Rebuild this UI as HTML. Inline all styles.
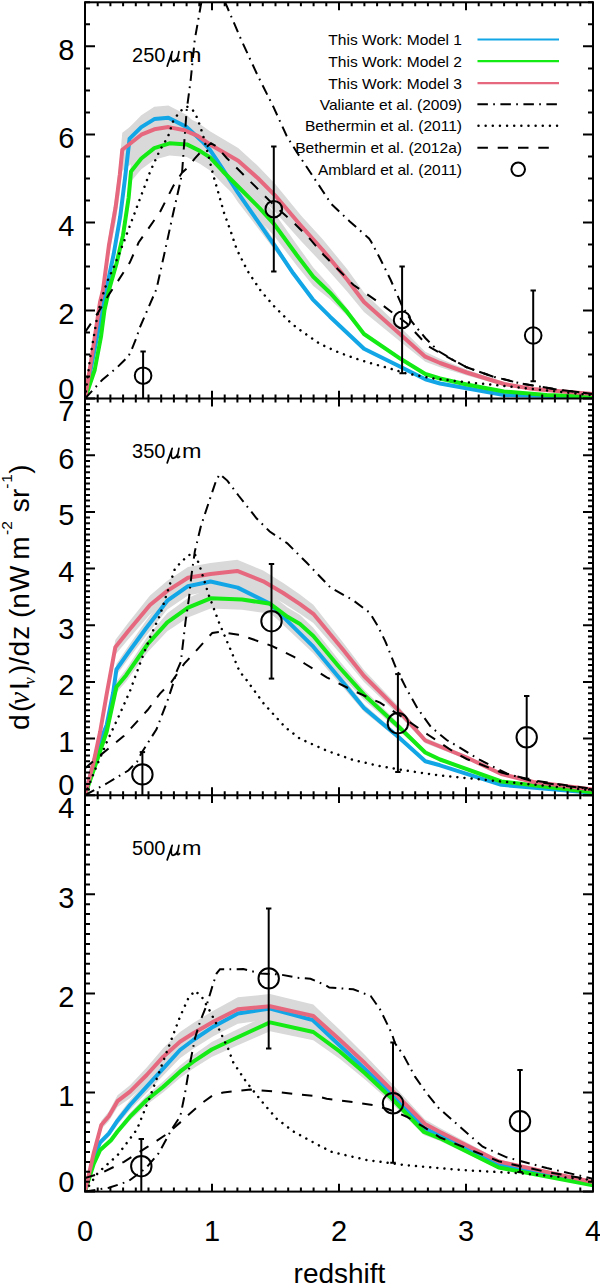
<!DOCTYPE html>
<html><head><meta charset="utf-8"><title>dI/dz vs redshift</title>
<style>html,body{margin:0;padding:0;background:#fff;}svg{display:block;font-family:"Liberation Sans",sans-serif;}</style></head><body>
<svg width="600" height="1283" viewBox="0 0 600 1283">
<rect width="600" height="1283" fill="#fff"/>
<defs>
<clipPath id="c0"><rect x="85" y="2.3" width="508" height="396.3"/></clipPath>
<clipPath id="c1"><rect x="85" y="398.6" width="508" height="396.6"/></clipPath>
<clipPath id="c2"><rect x="85" y="795.2" width="508" height="396.4"/></clipPath>
</defs>
<g clip-path="url(#c0)">
<polygon points="85,398.6 92.5,349 100,295.8 103,282.6 109,234.3 115.6,194.4 119.8,159.5 122.3,132.8 141.3,118.2 154.3,113.4 168.4,112.2 184.7,116.8 197.7,122.4 210,131.2 238.2,147.9 257.7,165.7 275,183.7 301,215.4 322.7,239.3 347.3,269.2 364,292.4 401.3,328.2 425.3,351.7 440,358.7 466.7,369.4 504,382.2 533.3,387.8 593,393.4 593,394.6 533.3,390.2 504,385.8 466.7,375.6 440,367.3 425.3,361.7 401.3,342.5 364,312.1 347.3,291.7 322.7,264 301,241 275,211.7 257.7,194.6 238.2,177.3 210,160.8 197.7,152.1 184.7,146.7 168.4,147.1 154.3,151 141.3,156.5 122.3,170.8 119.8,193.3 115.6,222.5 109,256 103,297.3 100,308.5 92.5,354.8 85,398.6" fill="#d9d9d9"/>
<polygon points="85,398.6 99.7,320 106.2,285.2 113.7,247.6 120.2,208.7 124.9,169.7 129.6,127.2 141.3,115.2 154.3,106.8 168.4,105.4 186.8,115.1 202,129.7 210,138.6 223,158.9 238.2,183.8 253.3,207.5 274.2,240.4 293.2,271.4 312.7,297.8 330,315.5 364,348 401.3,366.8 425.3,379 440,383.3 504,394.9 593,397 593,397 504,395.1 440,383.7 425.3,379.6 401.3,367.8 364,349.4 330,317.9 312.7,300.8 293.2,275.2 274.2,249.6 253.3,222.1 238.2,202.6 223,179.7 210,161 202,152.7 186.8,139.1 168.4,130.2 154.3,131.4 141.3,139 129.6,150 124.9,188.9 120.2,224.7 113.7,260.4 106.2,294.8 99.7,326.6 85,398.6" fill="#d9d9d9"/>
<polygon points="85,398.6 94.7,368.7 101,334 104.5,306.1 109,285.2 116.5,257.6 123,228.2 128.6,189.2 131,161.6 141.3,147.7 154.3,136.4 169.5,131 186.8,131.7 199.8,138 210,144.4 223,158.8 242.5,178.8 259.8,196.3 274.2,212.5 296.7,244.4 313.3,267.5 330,286.1 347.3,308.5 364,333.1 401.3,358.8 425.3,373.7 440,378.3 466.7,384.3 504,391.4 546.7,395 593,396.5 593,396.5 546.7,395 504,391.6 466.7,384.7 440,378.7 425.3,374.3 401.3,359.8 364,334.9 347.3,315.9 330,299.3 313.3,285.9 296.7,265.6 274.2,235.9 259.8,220.3 242.5,203.2 223,184.2 210,170.4 199.8,163.8 186.8,157.1 169.5,155.6 154.3,159.8 141.3,169.3 131,181.6 128.6,206.8 123,242.6 116.5,269.4 109,294.8 104.5,313.9 101,339.4 94.7,371.3 85,398.6" fill="#d9d9d9"/>
<polyline points="85,398.6 99.7,323.3 106.2,290 113.7,254 120.2,216.7 124.9,179.3 129.6,138.6 141.3,127.1 154.3,119.1 168.4,117.8 186.8,127.1 202,141.2 210,149.8 223,169.3 238.2,193.2 253.3,214.8 274.2,245 293.2,273.3 312.7,299.3 330,316.7 364,348.7 401.3,367.3 425.3,379.3 440,383.5 504,395 593,397" fill="none" stroke="#12a6e6" stroke-width="4" stroke-linejoin="round"/>
<polyline points="85,398.6 94.7,370 101,336.7 104.5,310 109,290 116.5,263.5 123,235.4 128.6,198 131,171.6 141.3,158.5 154.3,148.1 169.5,143.3 186.8,144.4 199.8,150.9 210,157.4 223,171.5 242.5,191 259.8,208.3 274.2,224.2 296.7,255 313.3,276.7 330,292.7 347.3,312.2 364,334 401.3,359.3 425.3,374 440,378.5 466.7,384.5 504,391.5 546.7,395 593,396.5" fill="none" stroke="#14ea14" stroke-width="4" stroke-linejoin="round"/>
<polyline points="85,398.6 92.5,352.2 100,302.3 103,290 109,244.8 115.6,207.4 119.8,174.7 122.3,149.7 141.3,134.7 154.3,129.3 168.4,127.1 184.7,130.3 197.7,135.8 210,144.4 238.2,160.7 257.7,178 275,195.3 301,225.7 322.7,250 347.3,279.7 364,302 401.3,335.3 425.3,356.7 440,363 466.7,372.5 504,384 533.3,389 593,394" fill="none" stroke="#e6687f" stroke-width="4" stroke-linejoin="round"/>
<polyline points="85,332.3 97.5,313.6 108.7,294.9 118.7,279.9 129.9,262.4 138.6,242.5 160,212 173.3,186 182,172.7 188,167.3 194.7,158.7 201.3,151.3 211,143.3 216,146 226.7,158 242.5,173.7 259.8,191 275,206.2 292.3,221.3 309.7,238.7 324,255.3 353.3,284.7 380,303.3 406.7,323.3 428,346 441,353.5 466.7,367.3 493.3,376.7 520,383.3 560,390 593,394" fill="none" stroke="#000" stroke-width="2" stroke-dasharray="10.5 9.8"/>
<polyline points="85,398.6 90,358.5 93.7,337.3 97.5,314.8 102.4,296.1 107.4,281.1 113.7,267.4 118.7,255 123.6,242.5 150,172 160,150 168,136.7 173.3,120.7 180,111.3 186.7,106.5 192,108.7 197.3,118 202.7,134 208,154 213.3,175.3 218.7,194 224,212.7 230.7,231.3 236.8,249.5 247.7,271.2 260.7,290.7 273.7,305.8 291,323.2 300,330 320,344 340,353 356.5,358.8 370,363 384,366.8 406.7,373.5 433.3,378.5 460,381.5 504,386 593,395.3" fill="none" stroke="#000" stroke-width="2.5" stroke-linecap="round" stroke-dasharray="0.01 7.13"/>
<polyline points="85,398.6 102.4,379.7 117.4,367.2 128.6,356 131.1,351 136.1,338.5 139.9,327.3 156.5,289 165.2,250 173.3,212.7 180,183.3 182,173.5 184,146 186.7,110 190.7,80 194.7,40 201.3,2.7 208.3,-37 225.3,2.7 241.3,40 257.3,74.7 273.3,106.7 286.7,136 296.7,152 309.7,171.5 322.7,191 331.3,204 349.5,221.2 369,238.5 371.2,241.8 379.8,258 390.7,280 402.1,306 412,322 425.3,338 438.7,351.3 452,359.3 466.7,367.3 493.3,376.7 520,383.3 560,390 593,394" fill="none" stroke="#000" stroke-width="2" stroke-dasharray="10.5 5.3 1.7 5.5"/>
<line x1="143.1" y1="351.4" x2="143.1" y2="398.6" stroke="#000" stroke-width="2"/>
<line x1="140.4" y1="351.4" x2="145.8" y2="351.4" stroke="#000" stroke-width="2"/>
<circle cx="143.1" cy="375.7" r="8.3" fill="none" stroke="#000" stroke-width="2"/>
<line x1="273.8" y1="146.6" x2="273.8" y2="271.6" stroke="#000" stroke-width="2"/>
<line x1="271.1" y1="146.6" x2="276.5" y2="146.6" stroke="#000" stroke-width="2"/>
<line x1="271.1" y1="271.6" x2="276.5" y2="271.6" stroke="#000" stroke-width="2"/>
<circle cx="273.8" cy="209.2" r="8.3" fill="none" stroke="#000" stroke-width="2"/>
<line x1="402.1" y1="266.6" x2="402.1" y2="373.2" stroke="#000" stroke-width="2"/>
<line x1="399.4" y1="266.6" x2="404.8" y2="266.6" stroke="#000" stroke-width="2"/>
<line x1="399.4" y1="373.2" x2="404.8" y2="373.2" stroke="#000" stroke-width="2"/>
<circle cx="402.1" cy="319.9" r="8.3" fill="none" stroke="#000" stroke-width="2"/>
<line x1="533.2" y1="290.4" x2="533.2" y2="381.2" stroke="#000" stroke-width="2"/>
<line x1="530.5" y1="290.4" x2="535.9" y2="290.4" stroke="#000" stroke-width="2"/>
<line x1="530.5" y1="381.2" x2="535.9" y2="381.2" stroke="#000" stroke-width="2"/>
<circle cx="533.2" cy="335.5" r="8.3" fill="none" stroke="#000" stroke-width="2"/>
</g>
<g clip-path="url(#c1)">
<polygon points="85,795.2 93.7,760.1 100.2,728.3 106.7,688.9 115.3,639.9 128.3,622.8 150,595.5 167.3,580.7 188,566.9 210.5,562.9 237.2,559.7 263.2,570.6 283.2,582.9 300,594.5 313.3,604.7 342.7,642 364,670 398.7,706.5 425.3,737.8 440,744.1 466.7,755.6 501.3,772.9 533.3,781.3 593,789.2 593,789.8 533.3,782.7 501.3,775.1 466.7,759.4 440,748.9 425.3,743.2 398.7,714.9 364,682 342.7,656.6 313.3,622.9 300,613.7 283.2,603.1 263.2,592 237.2,582.1 210.5,585.1 188,588.7 167.3,601.1 150,614.5 128.3,639.2 115.3,654.7 106.7,699.1 100.2,734.7 93.7,763.5 85,795.2" fill="#d9d9d9"/>
<polygon points="85,795.2 98,744.5 106.7,721.8 113.2,687.9 116.4,663.8 128.3,646.3 145.7,621.3 167.3,591.9 188,576.8 210.5,571.9 237.7,578.3 270.2,595.2 287.5,613.4 313.3,640.1 340,673.5 364,704.2 398.7,734.8 425.3,759.8 440,764 501.3,784.4 593,792.7 593,792.9 501.3,785.2 440,766.6 425.3,762.8 398.7,739.8 364,711.8 340,683.9 313.3,653.3 287.5,629 270.2,612.4 237.7,596.9 210.5,591.1 188,595.6 167.3,609.5 145.7,636.3 128.3,659.1 116.4,675.2 113.2,697.1 106.7,728.2 98,748.9 85,795.2" fill="#d9d9d9"/>
<polygon points="85,795.2 98,755.5 106.7,728.2 116.4,681.5 126.2,669 147.8,636.1 167.3,613.3 188,598 210.5,588.1 242,589.3 270.2,593.8 287.5,607.5 300,615.1 313.3,627.7 340,661.4 364,689.5 398.7,723.2 425.3,750.3 440,757.7 501.3,780.8 593,792.2 593,792.4 501.3,782.2 440,761.3 425.3,754.7 398.7,730.2 364,699.9 340,674.6 313.3,644.3 300,632.9 287.5,626.1 270.2,613.8 242,609.7 210.5,608.5 188,617.5 167.3,631.3 147.8,651.9 126.2,681.4 116.4,692.7 106.7,734.8 98,759.5 85,795.2" fill="#d9d9d9"/>
<polyline points="85,795.2 98,746.7 106.7,725 113.2,692.5 116.4,669.5 128.3,652.7 145.7,628.8 167.3,600.7 188,586.2 210.5,581.5 237.7,587.6 270.2,603.8 287.5,621.2 313.3,646.7 340,678.7 364,708 398.7,737.3 425.3,761.3 440,765.3 501.3,784.8 593,792.8" fill="none" stroke="#12a6e6" stroke-width="4" stroke-linejoin="round"/>
<polyline points="85,795.2 98,757.5 106.7,731.5 116.4,687.1 126.2,675.2 147.8,644 167.3,622.3 188,607.7 210.5,598.3 242,599.5 270.2,603.8 287.5,616.8 300,624 313.3,636 340,668 364,694.7 398.7,726.7 425.3,752.5 440,759.5 501.3,781.5 593,792.3" fill="none" stroke="#14ea14" stroke-width="4" stroke-linejoin="round"/>
<polyline points="85,795.2 93.7,761.8 100.2,731.5 106.7,694 115.3,647.3 128.3,631 150,605 167.3,590.9 188,577.8 210.5,574 237.2,570.9 263.2,581.3 283.2,593 300,604.1 313.3,613.8 342.7,649.3 364,676 398.7,710.7 425.3,740.5 440,746.5 466.7,757.5 501.3,774 533.3,782 593,789.5" fill="none" stroke="#e6687f" stroke-width="4" stroke-linejoin="round"/>
<polyline points="85,768.3 100.2,755.3 124,735.8 147.8,709.8 160,693.6 171.2,682.4 184.3,663.7 203,643.2 212.3,632.9 219.8,632 238.5,634.8 244.2,636.3 272.3,646.1 294,656.9 305.3,664 326.7,677.3 353.3,690.7 380,702.7 406.7,720 428,734.7 454.7,752.5 466.7,759 501.3,772.5 533.3,780.5 593,789" fill="none" stroke="#000" stroke-width="2" stroke-dasharray="10.5 9.8"/>
<polyline points="85,795.2 95,770 106.7,742.3 119.7,714.2 130,691 141.3,660 150,637.5 160,615.1 175,568.4 188,555.3 194.6,553.5 199.3,564.7 208.6,594.6 219.8,624.5 231,650.7 239.4,671.2 246.3,679.7 263.7,703.5 285.3,727.3 300,738.7 326.7,750.7 353.3,760 380,766.1 406.7,770.7 440,775.5 501.3,781.5 593,790.5" fill="none" stroke="#000" stroke-width="2.5" stroke-linecap="round" stroke-dasharray="0.01 7.13"/>
<polyline points="85,795.2 106.7,783.5 128.3,770.5 137,761.8 141.3,753.2 156.5,729.3 167.3,701.2 173.8,681.7 176.8,671.2 180.8,662 185.6,621.1 189,598 191.5,575 194.8,551.6 201.1,525.4 208.6,503 216.1,480.6 219.8,474 227.3,480.6 238.5,495.5 256.7,518.5 269.7,531.5 287.3,543.3 306.8,562.8 330.7,587.8 352.3,599.7 369.7,612.7 377.5,625.5 385.3,641.3 396,668 406.7,689.3 417.3,708 430.7,726.7 446.7,740 456,745.3 480,760 506.7,773.5 533.3,781.5 593,789.5" fill="none" stroke="#000" stroke-width="2" stroke-dasharray="10.5 5.3 1.7 5.5"/>
<line x1="142.4" y1="752.1" x2="142.4" y2="795.2" stroke="#000" stroke-width="2"/>
<line x1="139.7" y1="752.1" x2="145.1" y2="752.1" stroke="#000" stroke-width="2"/>
<circle cx="142.4" cy="774.4" r="10.2" fill="none" stroke="#000" stroke-width="2"/>
<line x1="271.5" y1="564" x2="271.5" y2="678.6" stroke="#000" stroke-width="2"/>
<line x1="268.8" y1="564" x2="274.2" y2="564" stroke="#000" stroke-width="2"/>
<line x1="268.8" y1="678.6" x2="274.2" y2="678.6" stroke="#000" stroke-width="2"/>
<circle cx="271.5" cy="621.2" r="10.2" fill="none" stroke="#000" stroke-width="2"/>
<line x1="397.9" y1="674.1" x2="397.9" y2="772" stroke="#000" stroke-width="2"/>
<line x1="395.2" y1="674.1" x2="400.6" y2="674.1" stroke="#000" stroke-width="2"/>
<line x1="395.2" y1="772" x2="400.6" y2="772" stroke="#000" stroke-width="2"/>
<circle cx="397.9" cy="723.2" r="10.2" fill="none" stroke="#000" stroke-width="2"/>
<line x1="526.7" y1="696" x2="526.7" y2="778.7" stroke="#000" stroke-width="2"/>
<line x1="524" y1="696" x2="529.4" y2="696" stroke="#000" stroke-width="2"/>
<line x1="524" y1="778.7" x2="529.4" y2="778.7" stroke="#000" stroke-width="2"/>
<circle cx="526.7" cy="737.3" r="10.2" fill="none" stroke="#000" stroke-width="2"/>
</g>
<g clip-path="url(#c2)">
<polygon points="85,1191.6 93.7,1150.7 101.3,1120.7 108.8,1111.4 117.5,1095.3 130,1085.2 146.7,1067.4 163.3,1047.9 180,1032 193.3,1023 213.3,1010.7 237.9,997.3 270,994.1 313.3,1004.6 340,1030.1 365,1055 390,1081.6 425,1119.6 440,1128.1 498.7,1159.5 593,1181.4 593,1182.6 498.7,1163.5 440,1135.9 425,1128.4 390,1095 365,1071.6 340,1049.9 313.3,1027.4 270,1018.3 237.9,1021.1 213.3,1032.7 193.3,1043.6 180,1051.4 163.3,1065.5 146.7,1082.6 130,1098.2 117.5,1107.1 108.8,1121.2 101.3,1129.3 93.7,1155.7 85,1191.6" fill="#d9d9d9"/>
<polygon points="85,1191.6 93.7,1155.5 100.2,1139.4 108.8,1130.3 117.5,1116.6 130,1100 146.7,1080.6 163.3,1061.1 180,1041.8 193.3,1031.2 213.3,1017.1 237.9,1003.2 270,998 312.7,1010 340,1037.3 390,1086.8 424,1124.3 440,1132.2 498.7,1163.5 593,1183.6 593,1184.4 498.7,1166.5 440,1138.8 424,1131.7 390,1098.2 340,1054.3 312.7,1030 270,1019.2 237.9,1023.8 213.3,1036.3 193.3,1048.8 180,1058.2 163.3,1075.5 146.7,1092.8 130,1110 117.5,1124.8 108.8,1137.1 100.2,1145.2 93.7,1159.5 85,1191.6" fill="#d9d9d9"/>
<polygon points="85,1191.6 93.7,1162.6 100.2,1147.7 111,1137.5 117.5,1128.4 130,1112.8 146.7,1095.2 163.3,1081.2 180,1065.5 193.3,1054.9 211.7,1042.1 235,1030.5 255,1020.9 270,1013.6 313.3,1023.7 340,1044.4 365,1067.1 390,1091.8 424,1128.9 440,1135.5 498.7,1166.2 593,1185 593,1185.6 498.7,1168.8 440,1141.1 424,1135.1 390,1101.6 365,1079.5 340,1059 313.3,1040.3 270,1031.2 255,1037.7 235,1046.5 211.7,1056.9 193.3,1068.5 180,1077.9 163.3,1092.2 146.7,1104.8 130,1120.6 117.5,1134.6 111,1142.9 100.2,1152.1 93.7,1165.4 85,1191.6" fill="#d9d9d9"/>
<polyline points="85,1191.6 93.7,1157.5 100.2,1142.3 108.8,1133.7 117.5,1120.7 130,1105 146.7,1086.7 163.3,1068.3 180,1050 193.3,1040 213.3,1026.7 237.9,1013.5 270,1008.6 312.7,1020 340,1045.8 390,1092.5 424,1128 440,1135.5 498.7,1165 593,1184" fill="none" stroke="#12a6e6" stroke-width="4" stroke-linejoin="round"/>
<polyline points="85,1191.6 93.7,1164 100.2,1149.9 111,1140.2 117.5,1131.5 130,1116.7 146.7,1100 163.3,1086.7 180,1071.7 193.3,1061.7 211.7,1049.5 235,1038.5 255,1029.3 270,1022.4 313.3,1032 340,1051.7 365,1073.3 390,1096.7 424,1132 440,1138.3 498.7,1167.5 593,1185.3" fill="none" stroke="#14ea14" stroke-width="4" stroke-linejoin="round"/>
<polyline points="85,1191.6 93.7,1153.2 101.3,1125 108.8,1116.3 117.5,1101.2 130,1091.7 146.7,1075 163.3,1056.7 180,1041.7 193.3,1033.3 213.3,1021.7 237.9,1009.2 270,1006.2 313.3,1016 340,1040 365,1063.3 390,1088.3 425,1124 440,1132 498.7,1161.5 593,1182" fill="none" stroke="#e6687f" stroke-width="4" stroke-linejoin="round"/>
<polyline points="85,1178.1 102.3,1172.7 124,1161.8 147.8,1146.7 167.3,1133.7 184.7,1118.5 188.3,1115 201.7,1103.3 213.3,1095 223.3,1092.5 250.7,1089.6 272.3,1091.3 294,1093.9 315.7,1096.1 326.7,1098.7 353.3,1102.1 373.3,1105 388.3,1109.2 406.7,1116.7 423.3,1126.7 440,1137.5 498.7,1161.3 546.7,1172 593,1180" fill="none" stroke="#000" stroke-width="2" stroke-dasharray="10.5 9.8"/>
<polyline points="85,1191.6 98,1172.7 117.5,1155.3 137,1129.3 150,1096.8 160,1070 170,1043.3 180,1016.7 188.3,998.3 195,990.8 201.7,996.7 209.3,1010 217.8,1026.7 228,1048.3 233.3,1062.5 246.3,1082 263.7,1103.7 276.7,1118.8 294,1131.8 317.8,1144.8 332,1152 366.7,1160 406.7,1165.3 460,1169.9 520,1173.3 593,1180" fill="none" stroke="#000" stroke-width="2.5" stroke-linecap="round" stroke-dasharray="0.01 7.13"/>
<polyline points="85,1191.6 108.8,1187.8 128.3,1181.3 145.7,1168.3 158.7,1153.2 171.7,1129.3 180.3,1116.3 185,1093.3 190,1063.3 195,1038.3 200,1021.7 206.7,1005 213.3,983.3 216.7,973.3 220,969.2 243.3,969.1 260.7,973.4 280.2,974.5 297.5,977.8 310.5,978.8 325.7,985.3 329.3,987.5 353.3,989.3 370.7,996 380,1009.3 391.7,1033.3 395,1043.3 403.3,1055 415,1076.7 426.7,1093.3 438.7,1108 461.3,1128 482.7,1146.7 506.7,1157.3 546.7,1168 593,1178.7" fill="none" stroke="#000" stroke-width="2" stroke-dasharray="10.5 5.3 1.7 5.5"/>
<line x1="141.3" y1="1139.1" x2="141.3" y2="1191.6" stroke="#000" stroke-width="2"/>
<line x1="138.6" y1="1139.1" x2="144" y2="1139.1" stroke="#000" stroke-width="2"/>
<circle cx="141.3" cy="1166.2" r="10.2" fill="none" stroke="#000" stroke-width="2"/>
<line x1="268.7" y1="908.4" x2="268.7" y2="1048.4" stroke="#000" stroke-width="2"/>
<line x1="266" y1="908.4" x2="271.4" y2="908.4" stroke="#000" stroke-width="2"/>
<line x1="266" y1="1048.4" x2="271.4" y2="1048.4" stroke="#000" stroke-width="2"/>
<circle cx="268.7" cy="978.4" r="10.2" fill="none" stroke="#000" stroke-width="2"/>
<line x1="393" y1="1042.5" x2="393" y2="1162.7" stroke="#000" stroke-width="2"/>
<line x1="390.3" y1="1042.5" x2="395.7" y2="1042.5" stroke="#000" stroke-width="2"/>
<line x1="390.3" y1="1162.7" x2="395.7" y2="1162.7" stroke="#000" stroke-width="2"/>
<circle cx="393" cy="1103.3" r="10.2" fill="none" stroke="#000" stroke-width="2"/>
<line x1="520" y1="1069.9" x2="520" y2="1172" stroke="#000" stroke-width="2"/>
<line x1="517.3" y1="1069.9" x2="522.7" y2="1069.9" stroke="#000" stroke-width="2"/>
<line x1="517.3" y1="1172" x2="522.7" y2="1172" stroke="#000" stroke-width="2"/>
<circle cx="520" cy="1121.3" r="10.2" fill="none" stroke="#000" stroke-width="2"/>
</g>
<path d="M85 398.6h10M593 398.6h-10M85 376.6h5M593 376.6h-5M85 354.6h5M593 354.6h-5M85 332.6h5M593 332.6h-5M85 310.5h10M593 310.5h-10M85 288.5h5M593 288.5h-5M85 266.5h5M593 266.5h-5M85 244.5h5M593 244.5h-5M85 222.5h10M593 222.5h-10M85 200.5h5M593 200.5h-5M85 178.4h5M593 178.4h-5M85 156.4h5M593 156.4h-5M85 134.4h10M593 134.4h-10M85 112.4h5M593 112.4h-5M85 90.4h5M593 90.4h-5M85 68.4h5M593 68.4h-5M85 46.3h10M593 46.3h-10M85 24.3h5M593 24.3h-5M85 2.3h5M593 2.3h-5M85 398.6v-7.9M85 2.3v7.9M97.7 398.6v-4M97.7 2.3v4M110.4 398.6v-4M110.4 2.3v4M123.1 398.6v-4M123.1 2.3v4M135.8 398.6v-4M135.8 2.3v4M148.5 398.6v-4M148.5 2.3v4M161.2 398.6v-4M161.2 2.3v4M173.9 398.6v-4M173.9 2.3v4M186.6 398.6v-4M186.6 2.3v4M199.3 398.6v-4M199.3 2.3v4M212 398.6v-7.9M212 2.3v7.9M224.7 398.6v-4M224.7 2.3v4M237.4 398.6v-4M237.4 2.3v4M250.1 398.6v-4M250.1 2.3v4M262.8 398.6v-4M262.8 2.3v4M275.5 398.6v-4M275.5 2.3v4M288.2 398.6v-4M288.2 2.3v4M300.9 398.6v-4M300.9 2.3v4M313.6 398.6v-4M313.6 2.3v4M326.3 398.6v-4M326.3 2.3v4M339 398.6v-7.9M339 2.3v7.9M351.7 398.6v-4M351.7 2.3v4M364.4 398.6v-4M364.4 2.3v4M377.1 398.6v-4M377.1 2.3v4M389.8 398.6v-4M389.8 2.3v4M402.5 398.6v-4M402.5 2.3v4M415.2 398.6v-4M415.2 2.3v4M427.9 398.6v-4M427.9 2.3v4M440.6 398.6v-4M440.6 2.3v4M453.3 398.6v-4M453.3 2.3v4M466 398.6v-7.9M466 2.3v7.9M478.7 398.6v-4M478.7 2.3v4M491.4 398.6v-4M491.4 2.3v4M504.1 398.6v-4M504.1 2.3v4M516.8 398.6v-4M516.8 2.3v4M529.5 398.6v-4M529.5 2.3v4M542.2 398.6v-4M542.2 2.3v4M554.9 398.6v-4M554.9 2.3v4M567.6 398.6v-4M567.6 2.3v4M580.3 398.6v-4M580.3 2.3v4M593 398.6v-7.9M593 2.3v7.9M85 795.2h10M593 795.2h-10M85 789.5h5M593 789.5h-5M85 783.9h5M593 783.9h-5M85 778.2h5M593 778.2h-5M85 772.5h5M593 772.5h-5M85 766.9h5M593 766.9h-5M85 761.2h5M593 761.2h-5M85 755.5h5M593 755.5h-5M85 749.9h5M593 749.9h-5M85 744.2h5M593 744.2h-5M85 738.5h10M593 738.5h-10M85 732.9h5M593 732.9h-5M85 727.2h5M593 727.2h-5M85 721.5h5M593 721.5h-5M85 715.9h5M593 715.9h-5M85 710.2h5M593 710.2h-5M85 704.5h5M593 704.5h-5M85 698.9h5M593 698.9h-5M85 693.2h5M593 693.2h-5M85 687.6h5M593 687.6h-5M85 681.9h10M593 681.9h-10M85 676.2h5M593 676.2h-5M85 670.6h5M593 670.6h-5M85 664.9h5M593 664.9h-5M85 659.2h5M593 659.2h-5M85 653.6h5M593 653.6h-5M85 647.9h5M593 647.9h-5M85 642.2h5M593 642.2h-5M85 636.6h5M593 636.6h-5M85 630.9h5M593 630.9h-5M85 625.2h10M593 625.2h-10M85 619.6h5M593 619.6h-5M85 613.9h5M593 613.9h-5M85 608.2h5M593 608.2h-5M85 602.6h5M593 602.6h-5M85 596.9h5M593 596.9h-5M85 591.2h5M593 591.2h-5M85 585.6h5M593 585.6h-5M85 579.9h5M593 579.9h-5M85 574.2h5M593 574.2h-5M85 568.6h10M593 568.6h-10M85 562.9h5M593 562.9h-5M85 557.2h5M593 557.2h-5M85 551.6h5M593 551.6h-5M85 545.9h5M593 545.9h-5M85 540.2h5M593 540.2h-5M85 534.6h5M593 534.6h-5M85 528.9h5M593 528.9h-5M85 523.2h5M593 523.2h-5M85 517.6h5M593 517.6h-5M85 511.9h10M593 511.9h-10M85 506.2h5M593 506.2h-5M85 500.6h5M593 500.6h-5M85 494.9h5M593 494.9h-5M85 489.3h5M593 489.3h-5M85 483.6h5M593 483.6h-5M85 477.9h5M593 477.9h-5M85 472.3h5M593 472.3h-5M85 466.6h5M593 466.6h-5M85 460.9h5M593 460.9h-5M85 455.3h10M593 455.3h-10M85 449.6h5M593 449.6h-5M85 443.9h5M593 443.9h-5M85 438.3h5M593 438.3h-5M85 432.6h5M593 432.6h-5M85 426.9h5M593 426.9h-5M85 421.3h5M593 421.3h-5M85 415.6h5M593 415.6h-5M85 409.9h5M593 409.9h-5M85 404.3h5M593 404.3h-5M85 398.6h10M593 398.6h-10M85 795.2v-7.9M85 398.6v7.9M97.7 795.2v-4M97.7 398.6v4M110.4 795.2v-4M110.4 398.6v4M123.1 795.2v-4M123.1 398.6v4M135.8 795.2v-4M135.8 398.6v4M148.5 795.2v-4M148.5 398.6v4M161.2 795.2v-4M161.2 398.6v4M173.9 795.2v-4M173.9 398.6v4M186.6 795.2v-4M186.6 398.6v4M199.3 795.2v-4M199.3 398.6v4M212 795.2v-7.9M212 398.6v7.9M224.7 795.2v-4M224.7 398.6v4M237.4 795.2v-4M237.4 398.6v4M250.1 795.2v-4M250.1 398.6v4M262.8 795.2v-4M262.8 398.6v4M275.5 795.2v-4M275.5 398.6v4M288.2 795.2v-4M288.2 398.6v4M300.9 795.2v-4M300.9 398.6v4M313.6 795.2v-4M313.6 398.6v4M326.3 795.2v-4M326.3 398.6v4M339 795.2v-7.9M339 398.6v7.9M351.7 795.2v-4M351.7 398.6v4M364.4 795.2v-4M364.4 398.6v4M377.1 795.2v-4M377.1 398.6v4M389.8 795.2v-4M389.8 398.6v4M402.5 795.2v-4M402.5 398.6v4M415.2 795.2v-4M415.2 398.6v4M427.9 795.2v-4M427.9 398.6v4M440.6 795.2v-4M440.6 398.6v4M453.3 795.2v-4M453.3 398.6v4M466 795.2v-7.9M466 398.6v7.9M478.7 795.2v-4M478.7 398.6v4M491.4 795.2v-4M491.4 398.6v4M504.1 795.2v-4M504.1 398.6v4M516.8 795.2v-4M516.8 398.6v4M529.5 795.2v-4M529.5 398.6v4M542.2 795.2v-4M542.2 398.6v4M554.9 795.2v-4M554.9 398.6v4M567.6 795.2v-4M567.6 398.6v4M580.3 795.2v-4M580.3 398.6v4M593 795.2v-7.9M593 398.6v7.9M85 1191.6h10M593 1191.6h-10M85 1181.7h5M593 1181.7h-5M85 1171.8h5M593 1171.8h-5M85 1161.9h5M593 1161.9h-5M85 1152h5M593 1152h-5M85 1142h5M593 1142h-5M85 1132.1h5M593 1132.1h-5M85 1122.2h5M593 1122.2h-5M85 1112.3h5M593 1112.3h-5M85 1102.4h5M593 1102.4h-5M85 1092.5h10M593 1092.5h-10M85 1082.6h5M593 1082.6h-5M85 1072.7h5M593 1072.7h-5M85 1062.8h5M593 1062.8h-5M85 1052.9h5M593 1052.9h-5M85 1043h5M593 1043h-5M85 1033h5M593 1033h-5M85 1023.1h5M593 1023.1h-5M85 1013.2h5M593 1013.2h-5M85 1003.3h5M593 1003.3h-5M85 993.4h10M593 993.4h-10M85 983.5h5M593 983.5h-5M85 973.6h5M593 973.6h-5M85 963.7h5M593 963.7h-5M85 953.8h5M593 953.8h-5M85 943.9h5M593 943.9h-5M85 933.9h5M593 933.9h-5M85 924h5M593 924h-5M85 914.1h5M593 914.1h-5M85 904.2h5M593 904.2h-5M85 894.3h10M593 894.3h-10M85 884.4h5M593 884.4h-5M85 874.5h5M593 874.5h-5M85 864.6h5M593 864.6h-5M85 854.7h5M593 854.7h-5M85 844.8h5M593 844.8h-5M85 834.8h5M593 834.8h-5M85 824.9h5M593 824.9h-5M85 815h5M593 815h-5M85 805.1h5M593 805.1h-5M85 795.2h10M593 795.2h-10M85 1191.6v-7.9M85 795.2v7.9M97.7 1191.6v-4M97.7 795.2v4M110.4 1191.6v-4M110.4 795.2v4M123.1 1191.6v-4M123.1 795.2v4M135.8 1191.6v-4M135.8 795.2v4M148.5 1191.6v-4M148.5 795.2v4M161.2 1191.6v-4M161.2 795.2v4M173.9 1191.6v-4M173.9 795.2v4M186.6 1191.6v-4M186.6 795.2v4M199.3 1191.6v-4M199.3 795.2v4M212 1191.6v-7.9M212 795.2v7.9M224.7 1191.6v-4M224.7 795.2v4M237.4 1191.6v-4M237.4 795.2v4M250.1 1191.6v-4M250.1 795.2v4M262.8 1191.6v-4M262.8 795.2v4M275.5 1191.6v-4M275.5 795.2v4M288.2 1191.6v-4M288.2 795.2v4M300.9 1191.6v-4M300.9 795.2v4M313.6 1191.6v-4M313.6 795.2v4M326.3 1191.6v-4M326.3 795.2v4M339 1191.6v-7.9M339 795.2v7.9M351.7 1191.6v-4M351.7 795.2v4M364.4 1191.6v-4M364.4 795.2v4M377.1 1191.6v-4M377.1 795.2v4M389.8 1191.6v-4M389.8 795.2v4M402.5 1191.6v-4M402.5 795.2v4M415.2 1191.6v-4M415.2 795.2v4M427.9 1191.6v-4M427.9 795.2v4M440.6 1191.6v-4M440.6 795.2v4M453.3 1191.6v-4M453.3 795.2v4M466 1191.6v-7.9M466 795.2v7.9M478.7 1191.6v-4M478.7 795.2v4M491.4 1191.6v-4M491.4 795.2v4M504.1 1191.6v-4M504.1 795.2v4M516.8 1191.6v-4M516.8 795.2v4M529.5 1191.6v-4M529.5 795.2v4M542.2 1191.6v-4M542.2 795.2v4M554.9 1191.6v-4M554.9 795.2v4M567.6 1191.6v-4M567.6 795.2v4M580.3 1191.6v-4M580.3 795.2v4M593 1191.6v-7.9M593 795.2v7.9" stroke="#000" stroke-width="2" fill="none"/>
<rect x="85" y="2.3" width="508" height="1189.3" fill="none" stroke="#000" stroke-width="2"/>
<path d="M85 398.6H593M85 795.2H593" stroke="#000" stroke-width="2"/>
<g font-size="29" text-anchor="end" fill="#000"><text x="74.5" y="398.8">0</text><text x="74.5" y="323.9">2</text><text x="74.5" y="235.9">4</text><text x="74.5" y="147.8">6</text><text x="74.5" y="59.7">8</text><text x="74.5" y="795.4">0</text><text x="74.5" y="751.9">1</text><text x="74.5" y="695.3">2</text><text x="74.5" y="638.6">3</text><text x="74.5" y="582">4</text><text x="74.5" y="525.3">5</text><text x="74.5" y="468.7">6</text><text x="74.5" y="421.2">7</text><text x="74.5" y="1191.8">0</text><text x="74.5" y="1105.9">1</text><text x="74.5" y="1006.8">2</text><text x="74.5" y="907.7">3</text><text x="74.5" y="817.8">4</text></g>
<g font-size="29" text-anchor="middle" fill="#000"><text x="85" y="1241">0</text><text x="212" y="1241">1</text><text x="339" y="1241">2</text><text x="466" y="1241">3</text><text x="593" y="1241">4</text></g>
<text x="339.5" y="1283" font-size="28" text-anchor="middle">redshift</text>
<text x="132.1" y="61.6" font-size="20">250</text>
<path d="M172.2,51.6 L167.2,66.1 M171.6,53.6 Q170.2,62.2 173.6,61.4 Q176.2,61 177.8,57.1 M178.9,51.6 L177.5,59.4 Q177.2,62.2 179.6,59.8" fill="none" stroke="#000" stroke-width="1.7" stroke-linecap="round" stroke-linejoin="round"/>
<text transform="translate(181.9,61.6) scale(1.17,1)" x="0" y="0" font-size="20">m</text>
<text x="132.1" y="458.4" font-size="20">350</text>
<path d="M172.2,448.4 L167.2,462.9 M171.6,450.4 Q170.2,459 173.6,458.2 Q176.2,457.8 177.8,453.9 M178.9,448.4 L177.5,456.2 Q177.2,459 179.6,456.6" fill="none" stroke="#000" stroke-width="1.7" stroke-linecap="round" stroke-linejoin="round"/>
<text transform="translate(181.9,458.4) scale(1.17,1)" x="0" y="0" font-size="20">m</text>
<text x="132.1" y="855.4" font-size="20">500</text>
<path d="M172.2,845.4 L167.2,859.9 M171.6,847.4 Q170.2,856 173.6,855.2 Q176.2,854.8 177.8,850.9 M178.9,845.4 L177.5,853.2 Q177.2,856 179.6,853.6" fill="none" stroke="#000" stroke-width="1.7" stroke-linecap="round" stroke-linejoin="round"/>
<text transform="translate(181.9,855.4) scale(1.17,1)" x="0" y="0" font-size="20">m</text>
<g font-size="15.55" text-anchor="end"><text x="462" y="45.1">This Work: Model 1</text><text x="462" y="66.8">This Work: Model 2</text><text x="462" y="88.8">This Work: Model 3</text><text x="462" y="109.8">Valiante et al. (2009)</text><text x="462" y="131.4">Bethermin et al. (2011)</text><text x="462" y="153.4">Bethermin et al. (2012a)</text><text x="462" y="174.9">Amblard et al. (2011)</text></g>
<path d="M477.5 39.5H559" stroke="#12a6e6" stroke-width="2.2"/>
<path d="M477.5 61.2H559" stroke="#14ea14" stroke-width="2.2"/>
<path d="M477.5 83.2H559" stroke="#e6687f" stroke-width="2.2"/>
<path d="M477.4 104.2H558" stroke="#000" stroke-width="2" stroke-dasharray="10.5 5.3 1.7 5.5"/>
<path d="M478.5 125.8H557.6" stroke="#000" stroke-width="2.5" stroke-linecap="round" stroke-dasharray="0.01 7.13"/>
<path d="M477.4 147.8H550" stroke="#000" stroke-width="2" stroke-dasharray="10.5 9.8"/>
<circle cx="518.2" cy="169.3" r="6.8" fill="none" stroke="#000" stroke-width="2"/>
<text transform="translate(28.7,730) rotate(-90)" font-size="28"><tspan x="0" y="0" >d</tspan><tspan x="18" y="0" >(</tspan><tspan x="25.3" y="0.3" font-family="Liberation Serif" font-style="italic" font-size="29">ν</tspan><tspan x="40" y="0" >I</tspan><tspan x="45.3" y="6.3" font-family="Liberation Serif" font-style="italic" font-size="17">ν</tspan><tspan x="56.1" y="0" >)</tspan><tspan x="65.3" y="0" >/</tspan><tspan x="73.4" y="0" >d</tspan><tspan x="90.2" y="0" >z</tspan><tspan x="112" y="0" >(</tspan><tspan x="121.2" y="0" >n</tspan><tspan x="137.9" y="0" >W</tspan><tspan x="170.3" y="0" >m</tspan><tspan x="195" y="-16.4" font-size="15.5">-</tspan><tspan x="200.3" y="-16.4" font-size="15.5">2</tspan><tspan x="217.7" y="0" >s</tspan><tspan x="232" y="0" >r</tspan><tspan x="241.3" y="-16.4" font-size="15.5">-</tspan><tspan x="247.2" y="-16.4" font-size="15.5">1</tspan><tspan x="256.2" y="0" >)</tspan></text>
</svg></body></html>
